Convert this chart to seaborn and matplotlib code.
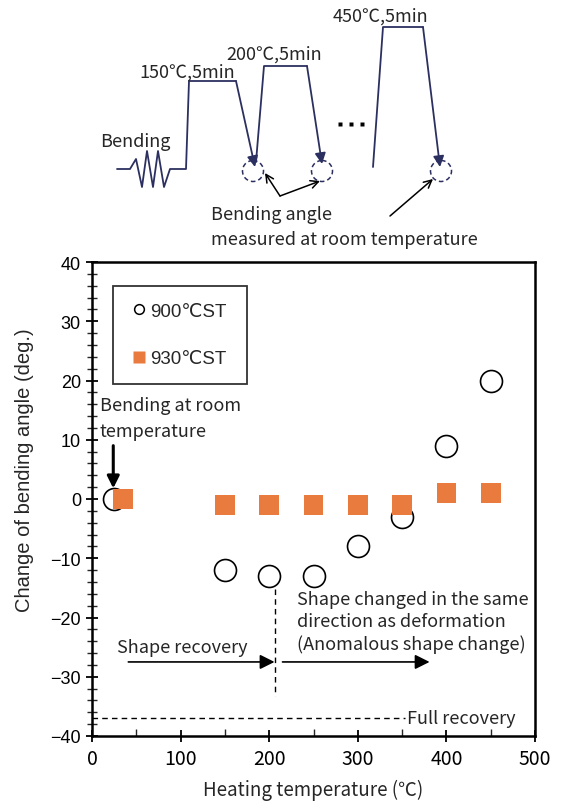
import matplotlib
matplotlib.use("Agg")
import matplotlib.pyplot as plt
import numpy as np
import pandas as pd
import seaborn as sns
from matplotlib.patches import Circle
from matplotlib.lines import Line2D

# ---- data -------------------------------------------------------------
temp_900 = [25, 150, 200, 250, 300, 350, 400, 450]
angle_900 = [0, -12, -13, -13, -8, -3, 9, 20]
temp_930 = [35, 150, 200, 250, 300, 350, 400, 450]
angle_930 = [0, -1, -1, -1, -1, -1, 1, 1]
series_labels = ["900\u2103ST", "930\u2103ST"]
full_recovery = -37
x_ticks = [0, 100, 200, 300, 400, 500]
y_ticks = [-40, -30, -20, -10, 0, 10, 20, 30, 40]

df = pd.concat([
    pd.DataFrame({"temp": temp_900, "angle": angle_900, "series": series_labels[0]}),
    pd.DataFrame({"temp": temp_930, "angle": angle_930, "series": series_labels[1]}),
])

sns.set_style("white")
JP = ["Noto Sans CJK JP", "DejaVu Sans"]
LS = ["Liberation Sans", "DejaVu Sans"]
plt.rcParams["font.family"] = JP

ORANGE = "#E97B3F"
NAVY = "#2C3060"

fig = plt.figure(figsize=(5.64, 8.03), dpi=100)

# ---- heat-treatment schematic (pixel coordinates) ---------------------
sk = fig.add_axes([0, 1 - 250 / 803, 1, 250 / 803])
sk.set_xlim(0, 564)
sk.set_ylim(250, 0)
sk.axis("off")

zig_x = [117, 130, 136, 142, 147, 153, 158, 164, 170, 186, 189, 236]
zig_y = [170, 170, 160, 188, 152, 188, 152, 188, 170, 170, 82, 82]
sk.plot(zig_x, zig_y, color=NAVY, lw=1.3)
sk.plot([256, 264, 307], [163, 67, 67], color=NAVY, lw=1.3)
sk.plot([373, 383, 423], [168, 28, 28], color=NAVY, lw=1.3)

for (x0, y0), (x1, y1) in [((236, 82), (255, 168)),
                           ((307, 67), (322, 165)),
                           ((423, 28), (440, 168))]:
    sk.annotate("", xy=(x1, y1), xytext=(x0, y0),
                arrowprops=dict(arrowstyle="-|>", color=NAVY, lw=1.3,
                                mutation_scale=16, shrinkA=0, shrinkB=0))

for cx in [253, 322, 441]:
    sk.add_patch(Circle((cx, 172), 10.5, fill=False, ec=NAVY, lw=1.1, ls=(0, (3, 2))))

for (x0, y0), (x1, y1) in [((280, 197), (265, 174)),
                           ((280, 197), (320, 182)),
                           ((390, 217), (433, 180))]:
    sk.annotate("", xy=(x1, y1), xytext=(x0, y0),
                arrowprops=dict(arrowstyle="->", color="black", lw=1.1,
                                mutation_scale=14, shrinkA=0, shrinkB=0))

# ellipsis between the 200 and 450 cycles
sk.plot([340, 351, 362], [125, 125, 125], ls="none", marker="s", ms=2.6,
        color="black", mec="none")

fs_top = 13
sk.text(100, 142, "Bending", fontsize=fs_top, va="center", ha="left")
sk.text(139, 73, "150\u2103,5min", fontsize=fs_top, va="center", ha="left")
sk.text(226, 55, "200\u2103,5min", fontsize=fs_top, va="center", ha="left")
sk.text(333, 17, "450\u2103,5min", fontsize=fs_top, va="center", ha="left")
sk.text(211, 215, "Bending angle", fontsize=fs_top, va="center", ha="left")
sk.text(211, 240, "measured at room temperature", fontsize=fs_top, va="center", ha="left")

# ---- measured bending angle -------------------------------------------
ax = fig.add_axes([92 / 564, 1 - 737 / 803, 443 / 564, 474 / 803])
sns.scatterplot(data=df[df.series == series_labels[0]], x="temp", y="angle",
                marker="o", s=250, facecolor="white", edgecolor="black",
                linewidth=1.2, ax=ax, legend=False, zorder=3)
sns.scatterplot(data=df[df.series == series_labels[1]], x="temp", y="angle",
                marker="s", s=200, color=ORANGE, edgecolor="none",
                ax=ax, legend=False, zorder=4)

ax.set_xlim(0, 500)
ax.set_ylim(-40, 40)
ax.set_xticks(x_ticks)
ax.set_yticks(y_ticks)
ax.set_xticks(np.arange(0, 501, 50), minor=True)
ax.set_yticks(np.arange(-40, 41, 2), minor=True)
ax.set_yticklabels([f"{v}" if v >= 0 else f"\u2212{-v}" for v in y_ticks])
ax.tick_params(axis="x", which="major", direction="inout", length=9, width=1.3,
               bottom=True, labelsize=14, pad=4, colors="black")
ax.tick_params(axis="x", which="minor", direction="in", length=5, width=1.0, bottom=True)
ax.tick_params(axis="y", which="major", direction="inout", length=9, width=1.3,
               left=True, labelsize=13, colors="black")
ax.tick_params(axis="y", which="minor", direction="inout", length=7, width=1.0, left=True)
for lbl in ax.get_yticklabels():
    lbl.set_family(LS)
for sp in ax.spines.values():
    sp.set_visible(True)
    sp.set_color("black")
    sp.set_linewidth(1.8)

ax.set_xlabel("Heating temperature (\u2103)", fontsize=13.5, va="center")
ax.xaxis.set_label_coords(0.5, -0.112)
ax.set_ylabel("Change of bending angle (deg.)", fontsize=14.5, family=LS)
ax.yaxis.set_label_coords(-0.13, 0.563)

# full-recovery reference
ax.plot([0, 353], [full_recovery, full_recovery], color="black", lw=1.0,
        ls=(0, (4, 3)), zorder=2)
ax.text(355, full_recovery, "Full recovery", fontsize=13, va="center", ha="left")

# boundary between recovery and anomalous change
ax.plot([207, 207], [-15.2, -33.2], color="black", lw=1.0, ls=(0, (4, 3)))

ax.text(9, 13.7, "Bending at room\ntemperature", fontsize=13, va="center",
        ha="left", linespacing=1.55)
ax.annotate("", xy=(24, 1.8), xytext=(24, 9),
            arrowprops=dict(arrowstyle="-|>", color="black", lw=2.2,
                            mutation_scale=18, shrinkA=0, shrinkB=0))

ax.text(28, -25.0, "Shape recovery", fontsize=13, va="center", ha="left")
ax.annotate("", xy=(206, -27.5), xytext=(41, -27.5),
            arrowprops=dict(arrowstyle="-|>", color="black", lw=1.2,
                            mutation_scale=22, shrinkA=0, shrinkB=0))
ax.annotate("", xy=(381, -27.5), xytext=(215, -27.5),
            arrowprops=dict(arrowstyle="-|>", color="black", lw=1.2,
                            mutation_scale=22, shrinkA=0, shrinkB=0))
ax.text(231, -20.7, "Shape changed in the same\ndirection as deformation\n(Anomalous shape change)",
        fontsize=13, va="center", ha="left", linespacing=1.3)

handles = [
    Line2D([], [], marker="o", ls="none", mfc="white", mec="black", ms=7, mew=1.1),
    Line2D([], [], marker="s", ls="none", mfc=ORANGE, mec="none", ms=9),
]
leg = ax.legend(handles, series_labels, loc="upper left",
                bbox_to_anchor=(0.0474, 0.5, 0.3025, 0.4494), mode="expand",
                frameon=True, fancybox=False, edgecolor="black", fontsize=13.5,
                handlelength=1.0, handletextpad=0.1, labelspacing=1.6,
                borderpad=0.9, borderaxespad=0)
leg.get_frame().set_linewidth(1.3)
for t in leg.get_texts():
    t.set_family(LS)

fig.savefig("out.png", dpi=100)
